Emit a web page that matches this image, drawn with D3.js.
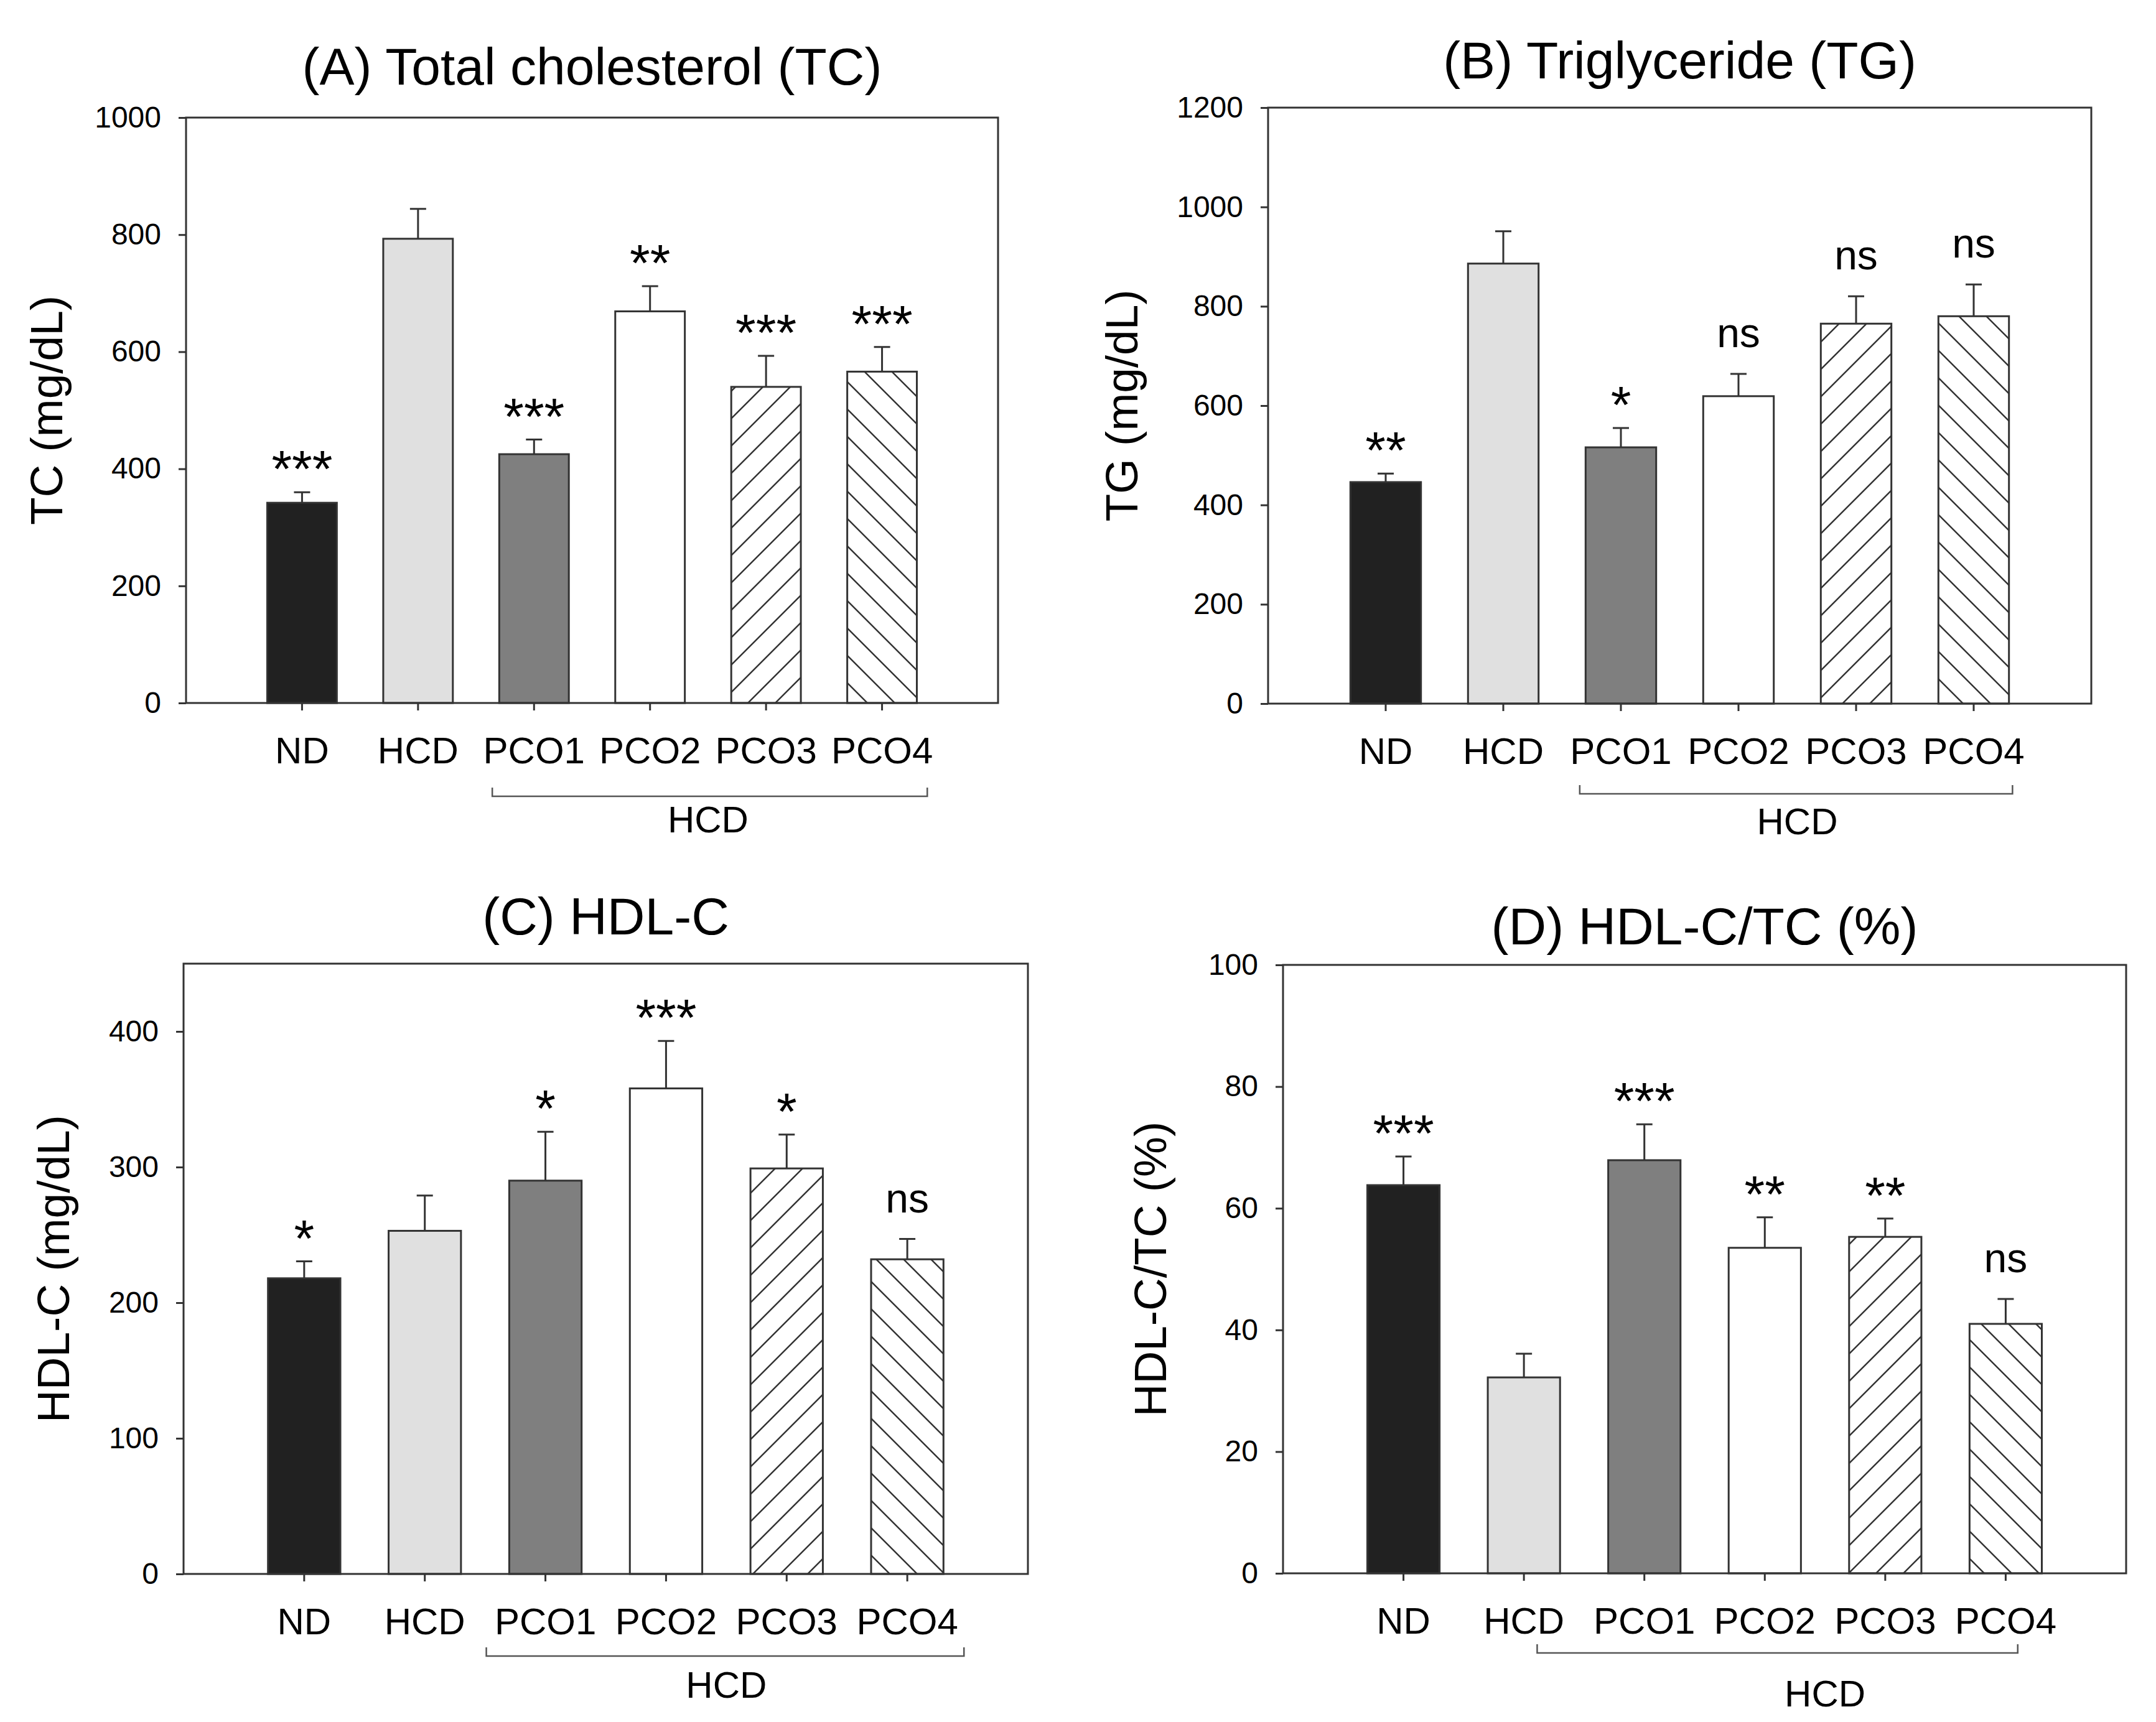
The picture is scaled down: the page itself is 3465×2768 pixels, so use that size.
<!DOCTYPE html>
<html>
<head>
<meta charset="UTF-8">
<title>Serum lipids</title>
<script src="https://d3js.org/d3.v7.min.js"></script>
<style>
  body { margin: 0; background: #fff; }
  text { font-family: "Liberation Sans", Arial, sans-serif; }
</style>
</head>
<body>
<svg width="3465" height="2768"></svg>
<script>
// groups on the x axis
var categories = ['ND', 'HCD', 'PCO1', 'PCO2', 'PCO3', 'PCO4'];

// (A) total cholesterol, mg/dL
var tcMean = [342, 793, 425, 669, 540, 566];
var tcErr  = [18, 51, 25, 43, 53, 42];
var tcSig  = ['***', '', '***', '**', '***', '***'];
var tcTicks = [0, 200, 400, 600, 800, 1000];

// (B) triglyceride, mg/dL
var tgMean = [446, 886, 516, 619, 765, 780];
var tgErr  = [17, 65, 39, 45, 55, 64];
var tgSig  = ['**', '', '*', 'ns', 'ns', 'ns'];
var tgTicks = [0, 200, 400, 600, 800, 1000, 1200];

// (C) HDL-C, mg/dL
var hdlMean = [218, 253, 290, 358, 299, 232];
var hdlErr  = [12.5, 26, 36, 35, 25, 15];
var hdlSig  = ['*', '', '*', '***', '*', 'ns'];
var hdlTicks = [0, 100, 200, 300, 400];

// (D) HDL-C / TC, %
var ratioMean = [63.8, 32.2, 67.9, 53.5, 55.3, 41.0];
var ratioErr  = [4.7, 3.9, 5.9, 5.0, 3.0, 4.1];
var ratioSig  = ['***', '', '***', '**', '**', 'ns'];
var ratioTicks = [0, 20, 40, 60, 80, 100];

var fills = ['#212121', '#e0e0e0', '#7f7f7f', '#ffffff', 'url(#hatchUp)', 'url(#hatchDown)'];
var ink = '#333';
var font = '"Liberation Sans", Arial, sans-serif';

var panels = [
  { title: '(A) Total cholesterol (TC)', yLabel: 'TC (mg/dL)', mean: tcMean, err: tcErr, sig: tcSig,
    ticks: tcTicks, yMax: 1000, left: 299, right: 1604, top: 189, bottom: 1130,
    titleY: 136, yLabelX: -199, hcdDy: 208,
    bracket: { from: 'PCO1', fromOff: -0.36, to: 'PCO4', toOff: 0.39, dy: 150 } },
  { title: '(B) Triglyceride (TG)', yLabel: 'TG (mg/dL)', mean: tgMean, err: tgErr, sig: tgSig,
    ticks: tgTicks, yMax: 1200, left: 2038, right: 3361, top: 173, bottom: 1131,
    titleY: 126, yLabelX: -210, hcdDy: 210,
    bracket: { from: 'PCO1', fromOff: -0.35, to: 'PCO4', toOff: 0.33, dy: 145 } },
  { title: '(C) HDL-C', yLabel: 'HDL-C (mg/dL)', mean: hdlMean, err: hdlErr, sig: hdlSig,
    ticks: hdlTicks, yMax: 450, left: 295, right: 1652, top: 1549, bottom: 2530,
    titleY: 1502, yLabelX: -184, hcdDy: 199,
    bracket: { from: 'PCO1', fromOff: -0.49, to: 'PCO4', toOff: 0.47, dy: 132 } },
  { title: '(D) HDL-C/TC (%)', yLabel: 'HDL-C/TC (%)', mean: ratioMean, err: ratioErr, sig: ratioSig,
    ticks: ratioTicks, yMax: 100, left: 2062, right: 3417, top: 1551, bottom: 2529,
    titleY: 1518, yLabelX: -188, hcdDy: 214,
    bracket: { from: 'HCD', fromOff: 0.11, to: 'PCO4', toOff: 0.1, dy: 128 } }
];

var svg = d3.select('svg');
var defs = svg.append('defs');

// diagonal hatching for PCO3 (/) and PCO4 (\)
function hatch(id, d) {
  defs.append('pattern')
      .attr('id', id)
      .attr('patternUnits', 'userSpaceOnUse')
      .attr('width', 44).attr('height', 44)
    .append('path')
      .attr('d', d)
      .attr('stroke', ink)
      .attr('stroke-width', 2.5)
      .attr('fill', 'none');
}
hatch('hatchUp', 'M0,44L44,0M-11,11L11,-11M33,55L55,33');
hatch('hatchDown', 'M0,0L44,44M-11,33L11,55M33,-11L55,11');

// restyle an axis after d3 has drawn it (d3 writes its own font size on the group)
function styleAxis(a, size) {
  a.attr('font-size', size).attr('font-family', font);
  a.select('.domain').remove();
  a.selectAll('line').attr('stroke', ink).attr('stroke-width', 3);
  a.selectAll('text').attr('fill', '#000');
}

panels.forEach(function (p) {
  var x = d3.scaleBand().domain(categories).range([p.left, p.right]).paddingInner(0.4).paddingOuter(0.7);
  var y = d3.scaleLinear().domain([0, p.yMax]).range([p.bottom, p.top]);
  var cx = function (c) { return x(c) + x.bandwidth() / 2; };
  var g = svg.append('g');

  // bars
  g.selectAll('rect.bar')
    .data(categories)
    .join('rect')
      .attr('class', 'bar')
      .attr('x', function (c) { return x(c); })
      .attr('width', x.bandwidth())
      .attr('y', function (c, i) { return y(p.mean[i]); })
      .attr('height', function (c, i) { return y(0) - y(p.mean[i]); })
      .attr('fill', function (c, i) { return fills[i]; })
      .attr('stroke', ink)
      .attr('stroke-width', 3);

  // upper error bars
  g.selectAll('path.err')
    .data(categories)
    .join('path')
      .attr('class', 'err')
      .attr('d', function (c, i) {
        var x0 = cx(c), y0 = y(p.mean[i]), y1 = y(p.mean[i] + p.err[i]);
        return 'M' + x0 + ',' + y0 + 'V' + y1 + 'M' + (x0 - 13) + ',' + y1 + 'H' + (x0 + 13);
      })
      .attr('fill', 'none')
      .attr('stroke', ink)
      .attr('stroke-width', 3);

  // significance marks
  g.selectAll('text.sig')
    .data(categories)
    .join('text')
      .attr('class', 'sig')
      .attr('x', cx)
      .attr('y', function (c, i) {
        var top = y(p.mean[i] + p.err[i]);
        return p.sig[i].charAt(0) === '*' ? top - 8 : top - 43;
      })
      .attr('text-anchor', 'middle')
      .attr('font-size', function (c, i) { return p.sig[i].charAt(0) === '*' ? 84 : 66; })
      .text(function (c, i) { return p.sig[i]; });

  // frame
  g.append('rect')
      .attr('x', p.left).attr('y', p.top)
      .attr('width', p.right - p.left).attr('height', p.bottom - p.top)
      .attr('fill', 'none')
      .attr('stroke', ink)
      .attr('stroke-width', 3);

  // axes
  g.append('g')
      .attr('transform', 'translate(' + p.left + ',0)')
      .call(d3.axisLeft(y).tickValues(p.ticks).tickSize(12).tickPadding(28).tickFormat(d3.format('d')))
      .call(styleAxis, 48);

  g.append('g')
      .attr('transform', 'translate(0,' + p.bottom + ')')
      .call(d3.axisBottom(x).tickSize(12).tickPadding(42))
      .call(styleAxis, 60);

  // title and y label
  g.append('text')
      .attr('x', (p.left + p.right) / 2)
      .attr('y', p.titleY)
      .attr('text-anchor', 'middle')
      .attr('font-size', 84)
      .text(p.title);

  g.append('text')
      .attr('transform', 'translate(' + (p.left + p.yLabelX) + ',' + ((p.top + p.bottom) / 2) + ') rotate(-90)')
      .attr('text-anchor', 'middle')
      .attr('font-size', 73)
      .text(p.yLabel);

  // bracket under the HCD-fed groups
  var b = p.bracket, step = x.step();
  var bx0 = cx(b.from) + b.fromOff * step, bx1 = cx(b.to) + b.toOff * step, by = p.bottom + b.dy;
  g.append('path')
      .attr('d', 'M' + bx0 + ',' + (by - 14) + 'V' + by + 'H' + bx1 + 'V' + (by - 14))
      .attr('fill', 'none')
      .attr('stroke', '#555')
      .attr('stroke-width', 2.5);
  g.append('text')
      .attr('x', (cx('PCO2') + cx('PCO3')) / 2)
      .attr('y', p.bottom + p.hcdDy)
      .attr('text-anchor', 'middle')
      .attr('font-size', 60)
      .text('HCD');
});
</script>
</body>
</html>
